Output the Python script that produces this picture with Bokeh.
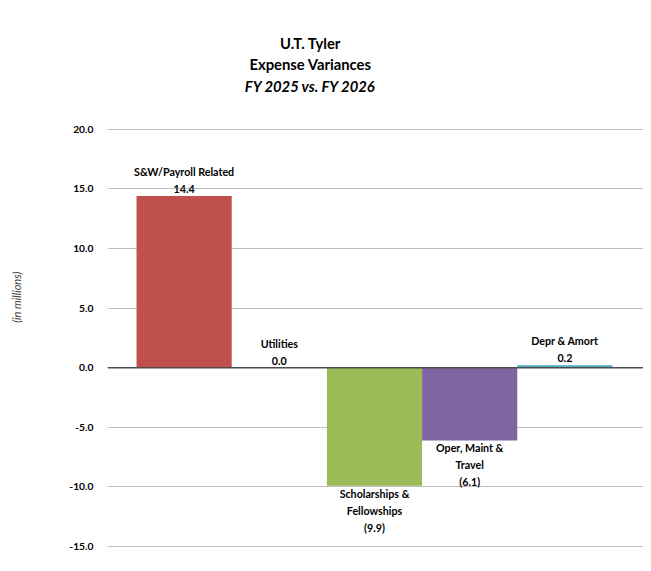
from bokeh.plotting import figure
from bokeh.models import ColumnDataSource, Range1d, Span, Label, FixedTicker, PrintfTickFormatter
from bokeh.core.properties import value
from bokeh.embed import file_html
from bokeh.resources import INLINE

# ---- data ----
categories = ["S&W/Payroll Related", "Utilities", "Scholarships &\nFellowships",
              "Oper, Maint &\nTravel", "Depr & Amort"]
values = [14.4, 0.0, -9.9, -6.1, 0.2]
colors = ["#C0504D", "#F79646", "#9BBB59", "#8064A2", "#4BACC6"]
y_ticks = [-15, -10, -5, 0, 5, 10, 15, 20]
title_lines = ["U.T. Tyler", "Expense Variances", "FY 2025 vs. FY 2026"]
y_label = "(in  millions)"

FONT = "Lato"

def fmt(v):
    return "(%.1f)" % abs(v) if v < 0 else "%.1f" % v

xs = list(range(len(values)))
src = ColumnDataSource(dict(
    x=xs, top=values, bottom=[0] * len(values), color=colors,
    alpha=[0 if v == 0 else 1 for v in values],
))

pos = [i for i, v in enumerate(values) if v >= 0]
neg = [i for i, v in enumerate(values) if v < 0]
pos_src = ColumnDataSource(dict(x=[xs[i] for i in pos], y=[values[i] for i in pos],
                                text=[categories[i] + "\n" + fmt(values[i]) for i in pos]))
neg_src = ColumnDataSource(dict(x=[xs[i] for i in neg], y=[values[i] for i in neg],
                                text=[categories[i] + "\n" + fmt(values[i]) for i in neg]))

# frame spans (almost) the full height; the title sits inside the invisible upper part
p = figure(width=643, height=569, output_backend="svg", toolbar_location=None,
           x_range=Range1d(-0.805, 4.826), y_range=Range1d(-16.926, 28.959),
           x_axis_location=None, min_border_left=107, min_border_right=0,
           min_border_top=22, min_border_bottom=0)
p.outline_line_color = None
p.xgrid.grid_line_color = None
p.ygrid.grid_line_color = "#BFBFBF"
p.ygrid.grid_line_width = 1

p.yaxis.ticker = FixedTicker(ticks=y_ticks)
p.yaxis.formatter = PrintfTickFormatter(format="%.1f")
p.yaxis.axis_line_color = None
p.yaxis.major_tick_line_color = None
p.yaxis.minor_tick_line_color = None
p.yaxis.major_label_standoff = 8
p.yaxis.major_label_text_font = FONT
p.yaxis.major_label_text_font_style = "bold"
p.yaxis.major_label_text_font_size = "10.3px"
p.yaxis.major_label_text_color = "#000000"
p.yaxis.axis_label = y_label
p.yaxis.axis_label_text_font = FONT
p.yaxis.axis_label_text_font_style = "italic"
p.yaxis.axis_label_text_font_size = "11px"
p.yaxis.axis_label_text_color = "#404040"
p.yaxis.axis_label_standoff = 43

p.vbar(x="x", top="top", bottom="bottom", width=1.0, fill_color="color",
       line_color=None, fill_alpha="alpha", source=src)

p.add_layout(Span(location=0, dimension="width", line_color="#4D4D4D", line_width=1.5))

p.text(x="x", y="y", text="text", source=pos_src, text_align="center",
       text_baseline="bottom", y_offset=-1, text_font=value(FONT),
       text_font_style="bold", text_font_size="10.7px", text_color="#000000",
       text_line_height=1.3)
p.text(x="x", y="y", text="text", source=neg_src, text_align="center",
       text_baseline="top", y_offset=1, text_font=value(FONT),
       text_font_style="bold", text_font_size="10.7px", text_color="#000000",
       text_line_height=1.3)

title_y = [27.2, 25.44, 23.6]
for i, t in enumerate(title_lines):
    p.add_layout(Label(x=1.327, y=title_y[i], text=t, text_align="center",
                       text_baseline="middle", text_font=FONT,
                       text_font_style="bold italic" if i == 2 else "bold",
                       text_font_size="14.8px", text_color="#000000"))

open("out.html", "w").write(file_html(p, INLINE))
